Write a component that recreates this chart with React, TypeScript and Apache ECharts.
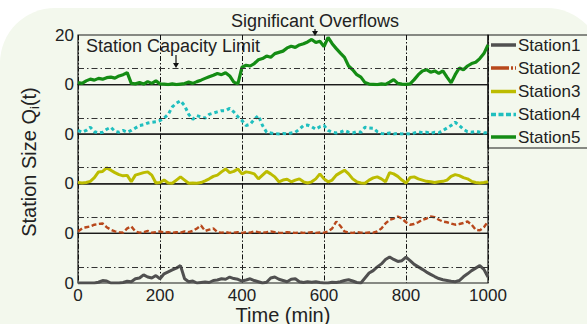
import React, { useEffect, useRef } from "react";
import * as echarts from "echarts";

// Queue length of each station, sampled every 10 minutes from t = 0 to t = 1000.
const TIME_STEP = 10;
const X_TICKS = [0, 200, 400, 600, 800, 1000];
const Y_MAX = 20;
const CAPACITY_LIMIT = 6.5;

const STATION_NAMES = ["Station1", "Station2", "Station3", "Station4", "Station5"];
const STATION_COLORS = ["#505050", "#b8481c", "#bcbc00", "#1fbfbf", "#148c14"];

const STATION1 = [
  0, 0, 0, 0, 0, 0.3, 1.0, 0.8, 0, 0,
  0, 0.2, 0.7, 0.5, 1.7, 2.0, 3.3, 2.4, 2.0, 3.0,
  1.7, 3.7, 4.5, 5.3, 6.0, 7.0, 1.7, 0.5, 0.8, 0,
  0.2, 0.4, 0.2, 1.0, 1.2, 1.7, 1.5, 2.4, 1.8, 1.5,
  0.8, 1.2, 1.7, 1.0, 0.5, 0, 0.3, 2.0, 2.4, 1.5,
  1.0, 0.5, 1.5, 1.7, 0.5, 0.2, 0.5, 0.3, 0.5, 0.2,
  0, 0, 0.3, 0.2, 0.5, 1.0, 1.3, 0.8, 0.2, 0,
  2.0, 4.0, 5.0, 6.5, 7.7, 9.5, 10.5, 9.5, 8.7, 9.0,
  10.4, 9.0, 7.5, 6.5, 5.5, 4.4, 3.5, 2.6, 1.8, 1.3,
  1.0, 0.7, 0.5, 1.0, 2.5, 3.7, 5.0, 6.0, 7.0, 5.5,
  2.4,
];

const STATION2 = [
  0.8, 2.0, 2.5, 2.8, 3.5, 3.8, 4.0, 2.5, 1.5, 0.8,
  0.5, 0.3, 2.0, 2.8, 0.8, 0.3, 0.5, 1.0, 0.3, 0.5,
  0.8, 0.3, 0.5, 0.2, 0.5, 0.3, 0.8, 0.5, 1.0, 2.0,
  3.2, 1.0, 1.5, 2.0, 0.5, 0.3, 0.5, 0.2, 0.3, 0.5,
  0.2, 0.5, 0.3, 0.8, 0.5, 0.3, 0.5, 0.8, 0.5, 0.3,
  0.2, 0.5, 0.3, 0.2, 0.4, 0.2, 0.3, 0.5, 0.2, 0.4,
  0.3, 0.8, 2.0, 4.8, 3.0, 0.8, 0.3, 0.2, 0.5, 0.3,
  0.2, 0.4, 0.3, 0.8, 2.0, 4.0, 5.5, 6.0, 6.8, 6.0,
  4.5, 3.5, 3.8, 4.5, 5.5, 6.0, 6.8, 6.5, 5.5, 4.8,
  4.5, 4.0, 3.5, 3.8, 4.2, 4.8, 3.5, 1.5, 1.2, 2.5,
  4.8,
];

const STATION3 = [
  0.5, 0.3, 0.5, 1.0, 2.5, 4.8, 5.0, 6.4, 5.5, 4.5,
  3.7, 3.2, 3.4, 0.8, 3.5, 4.0, 4.5, 4.8, 3.5, 0.3,
  0.5, 1.5, 0.3, 0.2, 1.5, 2.8, 1.5, 0.2, 0.3, 0.2,
  0.5, 1.2, 2.0, 3.0, 3.5, 4.8, 6.0, 4.5, 5.0, 6.0,
  4.0, 4.8, 4.5, 4.0, 2.0, 3.5, 5.0, 4.0, 2.8, 0.8,
  1.5, 1.8, 0.8, 1.5, 2.0, 0.8, 0.3, 0.8, 2.0, 4.0,
  2.0, 0.8, 1.5, 3.5, 4.5, 5.5, 4.0, 2.0, 0.8, 0.3,
  0.2, 1.5, 2.4, 2.8, 2.0, 0.8, 4.5, 4.0, 3.0, 1.5,
  0.3, 2.5, 2.8, 2.0, 1.5, 1.0, 0.8, 0.5, 0.8, 1.0,
  1.5, 3.0, 3.7, 3.3, 2.5, 2.0, 1.0, 0.5, 0.3, 0.5,
  0.8,
];

const STATION4 = [
  1.5, 0.8, 1.5, 2.8, 1.0, 0.5, 0.8, 2.0, 2.8, 1.2,
  0.8, 1.5, 0.8, 1.5, 2.5, 3.5, 3.8, 4.5, 4.8, 5.0,
  5.5, 6.5, 8.0, 11.0, 12.5, 13.5, 11.5, 8.0, 6.0, 7.5,
  7.0, 6.5, 8.0, 8.5, 9.0, 9.5, 9.5, 10.4, 9.0, 7.0,
  5.5, 3.5, 4.0, 6.0, 7.5, 3.5, 0.8, 0.5, 0.2, 0.1,
  0.3, 0.1, 0.5, 0.8, 2.0, 3.5, 3.7, 3.0, 2.0, 3.0,
  3.5, 1.5, 0.8, 0.5, 0.8, 1.5, 0.8, 0.5, 1.0, 0.8,
  2.8, 2.5, 2.4, 1.0, 0.3, 0.1, 0.5, 0.1, 0.3, 0.1,
  0.2, 0.1, 0.5, 1.0, 0.6, 0.8, 0.3, 0.8, 0.6, 1.5,
  2.5, 3.5, 4.8, 3.5, 2.0, 1.0, 0.8, 1.2, 0.8, 0.5,
  0.8,
];

const STATION5 = [
  0.8, 0.5, 1.5, 2.2, 1.8, 2.5, 2.2, 2.8, 3.0, 2.6,
  3.5, 4.0, 4.8, 0.5, 0.3, 0.8, 0.2, 1.2, 0.5, 1.5,
  0.3, 0.2, 0, 0.3, 0, 0.2, 0.4, 1.0, 0.5, 1.2,
  1.8, 2.5, 3.2, 3.8, 4.5, 4.0, 4.8, 3.5, 1.0, 0.3,
  7.0, 7.8, 7.5, 8.5, 10.0, 10.5, 11.5, 11.0, 12.5, 13.0,
  13.5, 14.8, 15.5, 15.0, 16.0, 16.5, 17.2, 18.2, 17.0, 17.5,
  15.3, 19.0, 16.5, 14.5, 12.7, 11.0, 7.5, 6.0, 4.0, 3.0,
  0.8, 0.2, 0.1, 0, 0.3, 0.1, 1.0, 2.0, 0.5, 0.2,
  0.1, 0.3, 2.0, 4.0, 5.5, 6.0, 5.0, 5.5, 4.5, 5.5,
  3.0, 0.7, 4.0, 6.7, 6.0, 7.5, 8.5, 9.0, 10.5, 12.5,
  16.0,
];

const STATION_DATA = [STATION1, STATION2, STATION3, STATION4, STATION5];

const FONT = "'Liberation Sans', Arial, Helvetica, sans-serif";
const TEXT_COLOR = "#222";
const PLOT_LEFT = 78;
const PLOT_WIDTH = 410;
const PLOT_TOP = 35;
const PANEL_H = 49.6;
const DASH_DOT = [5, 2, 1.5, 2];
const LINE_DASH: (number[] | "solid")[] = ["solid", [5, 2.5], "solid", [3.5, 3], "solid"];
const LEGEND_DASH: (number[] | null)[] = [null, [18, 2, 2, 2], null, [5, 2.5], null];
const LINE_WIDTH = [3, 2.4, 3, 3, 3.2];

function buildOption() {
  const n = STATION_NAMES.length;
  // Station5 sits in the top panel, Station1 in the bottom one.
  const panelOf = (k: number) => n - 1 - k;

  const grid = STATION_NAMES.map((_, i) => ({
    left: PLOT_LEFT,
    width: PLOT_WIDTH,
    top: PLOT_TOP + i * PANEL_H,
    height: PANEL_H,
    outerBoundsMode: "none",
    containLabel: false,
    show: true,
    borderColor: "#1a1a1a",
    borderWidth: 1.2,
    backgroundColor: "transparent",
  }));

  const xAxis = STATION_NAMES.map((_, i) => {
    const bottom = i === n - 1;
    return {
      type: "value",
      gridIndex: i,
      min: X_TICKS[0],
      max: X_TICKS[X_TICKS.length - 1],
      interval: X_TICKS[1] - X_TICKS[0],
      axisLine: { show: false },
      axisTick: { show: false },
      axisLabel: {
        show: bottom,
        fontFamily: FONT,
        fontSize: 17,
        lineHeight: 17,
        color: TEXT_COLOR,
        margin: 4,
        formatter: (v: number) => String(v),
      },
      splitLine: {
        show: true,
        lineStyle: { color: "#111", width: 1, type: DASH_DOT },
      },
    };
  });

  const yAxis = STATION_NAMES.map((_, i) => ({
    type: "value",
    gridIndex: i,
    min: 0,
    max: Y_MAX,
    interval: Y_MAX,
    axisLine: { show: false },
    axisTick: { show: false },
    splitLine: { show: false },
    axisLabel: {
      fontFamily: FONT,
      fontSize: 17,
      color: TEXT_COLOR,
      margin: 4,
      formatter: (v: number) => (v === 0 ? "0" : i === 0 ? String(v) : ""),
    },
  }));

  const series = STATION_NAMES.map((name, k) => {
    const p = panelOf(k);
    return {
      name,
      type: "line",
      xAxisIndex: p,
      yAxisIndex: p,
      symbol: "none",
      showSymbol: false,
      data: STATION_DATA[k].map((v, j) => [j * TIME_STEP, v]),
      lineStyle: { color: STATION_COLORS[k], width: LINE_WIDTH[k], type: LINE_DASH[k] },
      itemStyle: { color: STATION_COLORS[k] },
      markLine: {
        silent: true,
        symbol: "none",
        label: { show: false },
        lineStyle: { color: "#333", width: 1, type: [6, 3, 1.5, 3] },
        data: [{ yAxis: CAPACITY_LIMIT }],
      },
      z: 3,
    };
  });

  const arrow = (x: number, y0: number, y1: number) => [
    {
      type: "line",
      shape: { x1: x, y1: y0, x2: x, y2: y1 - 3 },
      style: { stroke: "#111", lineWidth: 1.2 },
    },
    {
      type: "polygon",
      shape: { points: [[x - 3, y1 - 5], [x + 3, y1 - 5], [x, y1]] },
      style: { fill: "#111" },
    },
  ];

  // Legend box in the right margin: a short line sample and the station name per row.
  const legendRows = [45, 68, 91.5, 114.5, 137];
  const legendItems = STATION_NAMES.flatMap((name, k) => [
    {
      type: "line",
      silent: true,
      shape: { x1: 491, y1: legendRows[k], x2: 516, y2: legendRows[k] },
      style: {
        stroke: STATION_COLORS[k],
        lineWidth: 3.5,
        lineDash: LEGEND_DASH[k] || undefined,
      },
    },
    {
      type: "text",
      silent: true,
      x: 518,
      y: legendRows[k],
      style: {
        text: name,
        fontFamily: FONT,
        fontSize: 17,
        fill: TEXT_COLOR,
        textAlign: "left",
        textVerticalAlign: "middle",
      },
    },
  ]);

  const graphic = [
    {
      type: "rect",
      z: -10,
      silent: true,
      shape: { x: 0, y: 8, width: 602, height: 340, r: [55, 55, 0, 0] },
      style: { fill: "#f3f8ed" },
    },
    {
      type: "rect",
      silent: true,
      shape: { x: 488, y: 35, width: 110, height: 113 },
      style: { fill: "none", stroke: "#1a1a1a", lineWidth: 1.2 },
    },
    ...legendItems,
    {
      type: "text",
      x: 315,
      y: 21,
      style: {
        text: "Significant Overflows",
        fontFamily: FONT,
        fontSize: 18,
        fill: TEXT_COLOR,
        textAlign: "center",
        textVerticalAlign: "middle",
      },
    },
    ...arrow(315, 29, 36),
    {
      type: "text",
      x: 86,
      y: 46,
      style: {
        text: "Station Capacity Limit",
        fontFamily: FONT,
        fontSize: 18,
        fill: TEXT_COLOR,
        textAlign: "left",
        textVerticalAlign: "middle",
      },
    },
    ...arrow(176, 55, 68),
    {
      type: "text",
      x: 283,
      y: 314.5,
      style: {
        text: "Time (min)",
        fontFamily: FONT,
        fontSize: 20,
        lineHeight: 19,
        fill: TEXT_COLOR,
        textAlign: "center",
        textVerticalAlign: "middle",
      },
    },
    {
      type: "text",
      x: 29,
      y: 162,
      rotation: Math.PI / 2,
      style: {
        text: "{a|Station Size Q}{s|i}{a|(t)}",
        textAlign: "center",
        textVerticalAlign: "middle",
        rich: {
          a: { fontFamily: FONT, fontSize: 20, fill: TEXT_COLOR, lineHeight: 24 },
          s: {
            fontFamily: FONT,
            fontSize: 13,
            fill: TEXT_COLOR,
            lineHeight: 24,
            verticalAlign: "bottom",
            padding: [10, 0, 0, 0],
          },
        },
      },
    },
  ];

  return {
    animation: false,
    backgroundColor: "#ffffff",
    grid,
    xAxis,
    yAxis,
    series,
    graphic,
  };
}

export default function App() {
  const ref = useRef<HTMLDivElement>(null);

  useEffect(() => {
    document.body.style.margin = "0";
    if (!ref.current) return;
    const chart = echarts.init(ref.current, undefined, { renderer: "svg" });
    chart.setOption(buildOption() as any);
    return () => chart.dispose();
  }, []);

  return <div ref={ref} style={{ width: 587, height: 324 }} />;
}
